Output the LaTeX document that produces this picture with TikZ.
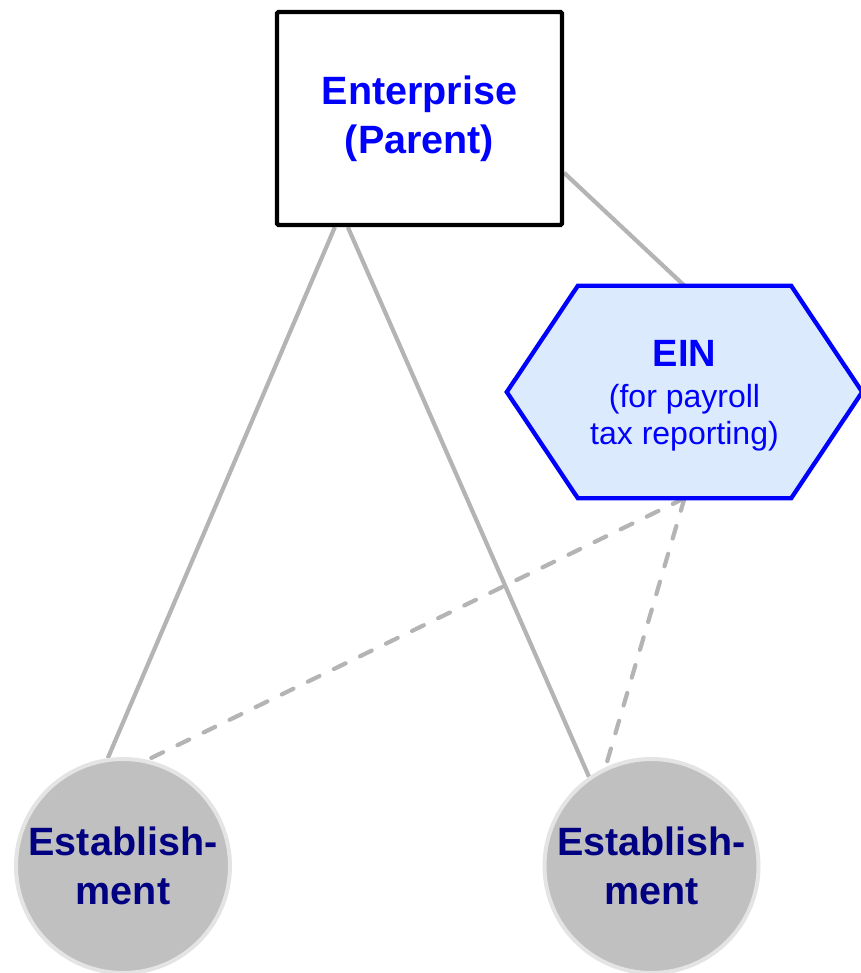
\documentclass[tikz,border=0pt]{standalone}
\usepackage{fontspec}
\setmainfont{Liberation Sans}
\usetikzlibrary{calc}
\pgfdeclarelayer{background}
\pgfsetlayers{background,main}
\definecolor{linkgray}{HTML}{B4B4B4}
\definecolor{hexfill}{HTML}{DBEAFC}
\definecolor{hexblue}{HTML}{0000FF}
\definecolor{estfill}{HTML}{C0C0C0}
\definecolor{estborder}{HTML}{E4E4E4}
\definecolor{navy}{HTML}{000080}
\tikzset{
  entbox/.style={draw=black, line width=4.3pt, rounded corners=1.5pt, fill=white,
    minimum width=285pt, minimum height=213pt, inner sep=0pt, align=center,
    text=hexblue, font=\fontsize{39.5}{49}\selectfont\bfseries},
  einbox/.style={minimum width=213pt, minimum height=212pt, inner sep=0pt, align=center,
    text=hexblue, font=\fontsize{32}{37}\selectfont},
  hexline/.style={draw=hexblue, fill=hexfill, line width=4.3pt, line join=miter},
  estnode/.style={circle, draw=estborder, fill=estfill, line width=4pt,
    minimum size=214pt, inner sep=0pt, align=center, text=navy,
    font=\fontsize{39.5}{49}\selectfont\bfseries},
  solidlink/.style={draw=linkgray, line width=4.2pt},
  dashlink/.style={draw=linkgray, line width=4.2pt, line cap=round, dash pattern=on 13pt off 16pt},
}
\begin{document}
\begin{tikzpicture}[x=1pt, y=-1pt]
\useasboundingbox (0,0) rectangle (860,973);
\node[entbox] (ent) at (419.5,118.5) {Enterprise\\(Parent)};
\node[einbox] (ein) at (684.5,392) {};
\node[text=hexblue, align=center, inner sep=0pt, font=\fontsize{32}{37}\selectfont]
  (eintext) at ([yshift=-4pt]ein.center) {{\fontsize{38}{42}\selectfont\bfseries EIN}\\[4pt](for payroll\\tax reporting)};
\node[estnode] (lc) at (123,866) {Establish-\\ment};
\node[estnode] (rc) at (651.5,866) {Establish-\\ment};
\begin{pgfonlayer}{background}
  \draw[solidlink] ([xshift=60pt]ent.south west) -- (lc.98);
  \draw[solidlink] ([xshift=73pt]ent.south west) -- (rc.125);
  \draw[solidlink] ([yshift=-163pt]ent.north east) -- (ein.north);
  \draw[dashlink] (ein.south) -- (lc.77);
  \draw[dashlink] (ein.south) -- (rc.115);
  \path[hexline] (ein.north west) -- (ein.north east) -- ([xshift=71pt]ein.east)
    -- (ein.south east) -- (ein.south west) -- ([xshift=-71pt]ein.west) -- cycle;
\end{pgfonlayer}
\end{tikzpicture}
\end{document}
